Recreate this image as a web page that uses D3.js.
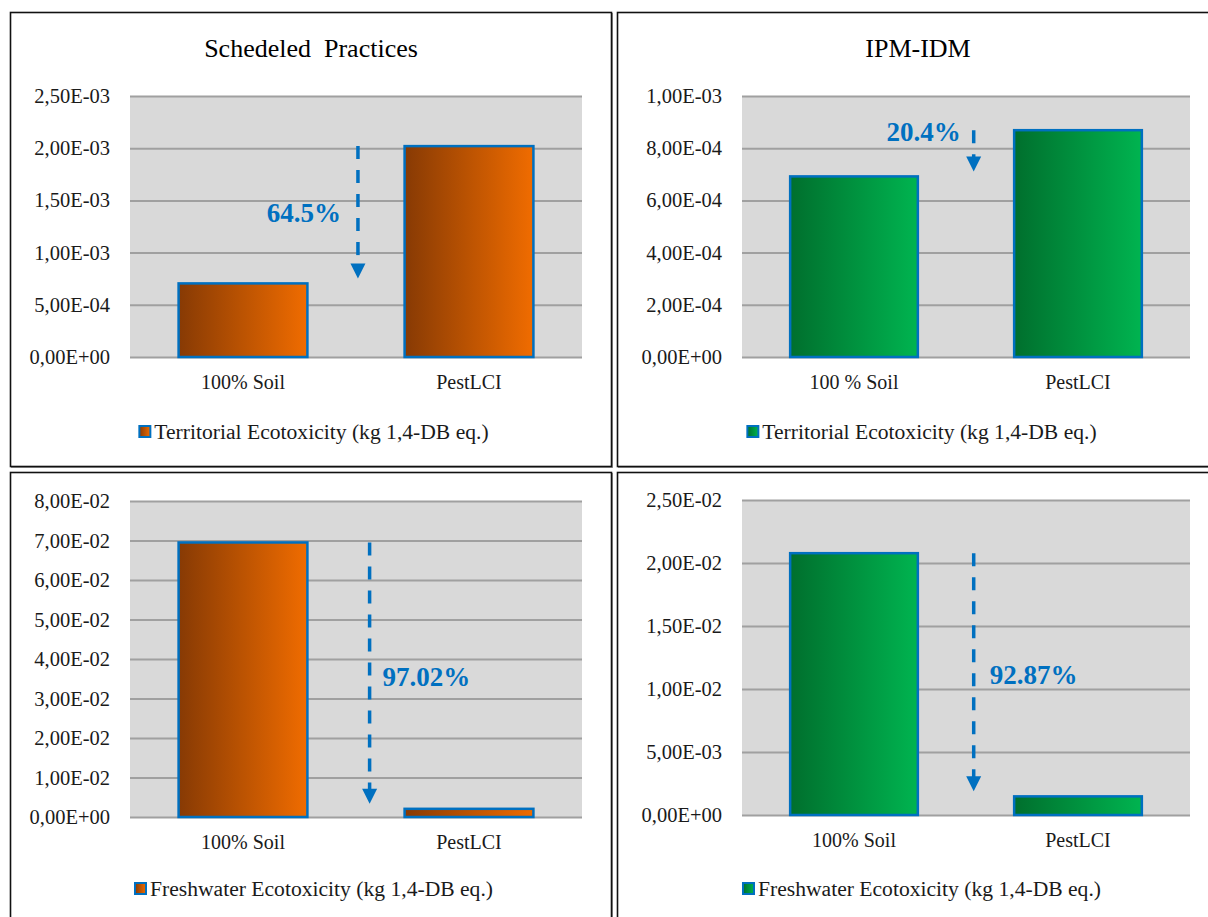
<!DOCTYPE html>
<html>
<head>
<meta charset="utf-8">
<script src="https://cdn.jsdelivr.net/npm/d3@7"></script>
<style>
  body { margin: 0; background: #ffffff; }
  svg { display: block; }
  text { font-family: "Liberation Serif", "Times New Roman", serif; }
</style>
</head>
<body>
<svg id="chart" width="1208" height="917"></svg>
<script>
// ---- data ----
const categoriesScheduled = ["100% Soil", "PestLCI"];
const categoriesIpm = ["100 % Soil", "PestLCI"];
const categoriesFresh = ["100% Soil", "PestLCI"];

const territorialScheduled = [7.05e-4, 2.02e-3];
const territorialIpm = [6.92e-4, 8.69e-4];
const freshwaterScheduled = [6.95e-2, 2.07e-3];
const freshwaterIpm = [2.078e-2, 1.48e-3];

const reductionLabels = ["64.5%", "20.4%", "97.02%", "92.87%"];

const ticksTerritorialScheduled = [0, 5e-4, 1e-3, 1.5e-3, 2e-3, 2.5e-3];
const ticksTerritorialIpm = [0, 2e-4, 4e-4, 6e-4, 8e-4, 1e-3];
const ticksFreshwaterScheduled = [0, 0.01, 0.02, 0.03, 0.04, 0.05, 0.06, 0.07, 0.08];
const ticksFreshwaterIpm = [0, 5e-3, 1e-2, 1.5e-2, 2e-2, 2.5e-2];

const titles = ["Schedeled\u00A0 Practices", "IPM-IDM"];
const legendLabels = ["Territorial Ecotoxicity (kg 1,4-DB eq.)", "Freshwater Ecotoxicity (kg 1,4-DB eq.)"];

// ---- helpers ----
// Scientific notation with a decimal comma, e.g. 2,50E-03
function sci(v) {
  if (v === 0) return "0,00E+00";
  const e = Math.floor(Math.log10(Math.abs(v)) + 1e-9);
  const m = v / Math.pow(10, e);
  return m.toFixed(2).replace(".", ",") + "E" + (e < 0 ? "-" : "+") + String(Math.abs(e)).padStart(2, "0");
}

const svg = d3.select("#chart");
const defs = svg.append("defs");

function addGradient(id, c0, c1) {
  const g = defs.append("linearGradient").attr("id", id)
    .attr("x1", "0%").attr("x2", "100%").attr("y1", "0%").attr("y2", "0%");
  g.append("stop").attr("offset", "0%").attr("stop-color", c0);
  g.append("stop").attr("offset", "100%").attr("stop-color", c1);
}
addGradient("gradOrange", "#873A04", "#F06C00");
addGradient("gradGreen", "#006F2D", "#00B450");

const BLUE = "#0070C0";

// ---- panel frames ----
const frames = [
  { x0: 10.5, y0: 12.5, x1: 611.5, y1: 466.5 },
  { x0: 617.5, y0: 12.5, x1: 1230, y1: 466.5 },
  { x0: 10.5, y0: 472.5, x1: 611.5, y1: 940 },
  { x0: 617.5, y0: 472.5, x1: 1230, y1: 940 }
];
frames.forEach(f => {
  svg.append("rect")
    .attr("x", f.x0 + 1).attr("y", f.y0 + 1)
    .attr("width", f.x1 - f.x0).attr("height", f.y1 - f.y0)
    .attr("fill", "none").attr("stroke", "#9a9a9a").attr("stroke-width", 1);
  svg.append("rect")
    .attr("x", f.x0).attr("y", f.y0)
    .attr("width", f.x1 - f.x0).attr("height", f.y1 - f.y0)
    .attr("fill", "#ffffff").attr("stroke", "#111111").attr("stroke-width", 1.6);
});

// ---- panel definitions ----
const panels = [
  {
    cats: categoriesScheduled, values: territorialScheduled, ticks: ticksTerritorialScheduled,
    plot: { x0: 130, x1: 582, y0: 96, y1: 357 }, fill: "url(#gradOrange)",
    title: titles[0], titleX: 311, titleY: 57,
    legend: legendLabels[0], legendCx: 314, legendY: 439,
    catY: 389, label: reductionLabels[0],
    arrowFrac: 0.52, labelDx: -17, labelDy: 0, labelAnchor: "end"
  },
  {
    cats: categoriesIpm, values: territorialIpm, ticks: ticksTerritorialIpm,
    plot: { x0: 742, x1: 1190, y0: 96, y1: 357 }, fill: "url(#gradGreen)",
    title: titles[1], titleX: 918, titleY: 57,
    legend: legendLabels[0], legendCx: 922, legendY: 439,
    catY: 389, label: reductionLabels[1],
    arrowFrac: 0.58, labelDx: -13, labelDy: -19, labelAnchor: "end"
  },
  {
    cats: categoriesFresh, values: freshwaterScheduled, ticks: ticksFreshwaterScheduled,
    plot: { x0: 130, x1: 582, y0: 501, y1: 817 }, fill: "url(#gradOrange)",
    title: null,
    legend: legendLabels[1], legendCx: 314, legendY: 896,
    catY: 849, label: reductionLabels[2],
    arrowFrac: 0.64, labelDx: 13, labelDy: 3, labelAnchor: "start"
  },
  {
    cats: categoriesFresh, values: freshwaterIpm, ticks: ticksFreshwaterIpm,
    plot: { x0: 742, x1: 1190, y0: 500, y1: 815 }, fill: "url(#gradGreen)",
    title: null,
    legend: legendLabels[1], legendCx: 922, legendY: 896,
    catY: 847, label: reductionLabels[3],
    arrowFrac: 0.58, labelDx: 16, labelDy: 2, labelAnchor: "start"
  }
];

panels.forEach(p => {
  const g = svg.append("g");
  const x = d3.scaleBand().domain(p.cats).range([p.plot.x0, p.plot.x1])
    .paddingInner(0.43).paddingOuter(0.215);
  const y = d3.scaleLinear().domain([0, d3.max(p.ticks)]).range([p.plot.y1, p.plot.y0]);

  // plot area
  g.append("rect")
    .attr("x", p.plot.x0).attr("y", p.plot.y0)
    .attr("width", p.plot.x1 - p.plot.x0).attr("height", p.plot.y1 - p.plot.y0)
    .attr("fill", "#D9D9D9");

  // gridlines + tick labels through a left axis
  const axis = d3.axisLeft(y).tickValues(p.ticks).tickFormat(sci)
    .tickSize(-(p.plot.x1 - p.plot.x0)).tickPadding(20);
  const ax = g.append("g").attr("transform", `translate(${p.plot.x0},0)`).call(axis);
  ax.attr("font-family", null).attr("font-size", null);
  ax.select(".domain").remove();
  ax.selectAll(".tick line").attr("stroke", "#A0A0A0").attr("stroke-width", 2);
  ax.selectAll(".tick text")
    .attr("fill", "#1a1a1a").style("font-size", "20.5px")
    .style("font-family", "'Liberation Serif', 'Times New Roman', serif");

  // bars
  g.selectAll("rect.bar").data(p.values).join("rect").attr("class", "bar")
    .attr("x", (d, i) => x(p.cats[i]))
    .attr("y", d => y(d))
    .attr("width", x.bandwidth())
    .attr("height", d => y(0) - y(d))
    .attr("fill", p.fill)
    .attr("stroke", BLUE).attr("stroke-width", 2.5);

  // category labels
  g.selectAll("text.cat").data(p.cats).join("text").attr("class", "cat")
    .attr("x", d => x(d) + x.bandwidth() / 2)
    .attr("y", p.catY)
    .attr("text-anchor", "middle")
    .attr("fill", "#1a1a1a").style("font-size", "20px")
    .text(d => d);

  // title
  if (p.title) {
    g.append("text").attr("x", p.titleX).attr("y", p.titleY)
      .attr("text-anchor", "middle").attr("fill", "#000")
      .style("font-size", "26px").text(p.title);
  }

  // reduction arrow from the larger value down to the smaller one
  const hi = d3.max(p.values), lo = d3.min(p.values);
  const gapStart = x(p.cats[0]) + x.bandwidth();
  const gapEnd = x(p.cats[1]);
  const ax0 = gapStart + p.arrowFrac * (gapEnd - gapStart);
  const yTop = y(hi), yTip = y(lo) - 5;
  const headH = 15, headW = 15;
  g.append("line")
    .attr("x1", ax0).attr("x2", ax0)
    .attr("y1", yTop).attr("y2", yTip - headH + 2)
    .attr("stroke", BLUE).attr("stroke-width", 3.5)
    .attr("stroke-dasharray", "13,11");
  g.append("path")
    .attr("d", `M${ax0 - headW / 2},${yTip - headH} L${ax0 + headW / 2},${yTip - headH} L${ax0},${yTip} Z`)
    .attr("fill", BLUE);
  g.append("text")
    .attr("x", ax0 + p.labelDx)
    .attr("y", (yTop + yTip) / 2 + p.labelDy)
    .attr("dy", "0.35em")
    .attr("text-anchor", p.labelAnchor)
    .attr("fill", BLUE).style("font-size", "27px").style("font-weight", "bold")
    .text(p.label);

  // legend
  const lg = g.append("g");
  lg.append("rect").attr("x", 0).attr("y", -13).attr("width", 11).attr("height", 11)
    .attr("fill", p.fill).attr("stroke", BLUE).attr("stroke-width", 2);
  const lt = lg.append("text").attr("x", 15).attr("y", 0)
    .attr("fill", "#1a1a1a").style("font-size", "21.6px").text(p.legend);
  const w = 15 + lt.node().getComputedTextLength();
  lg.attr("transform", `translate(${p.legendCx - w / 2},${p.legendY})`);
});
</script>
</body>
</html>
